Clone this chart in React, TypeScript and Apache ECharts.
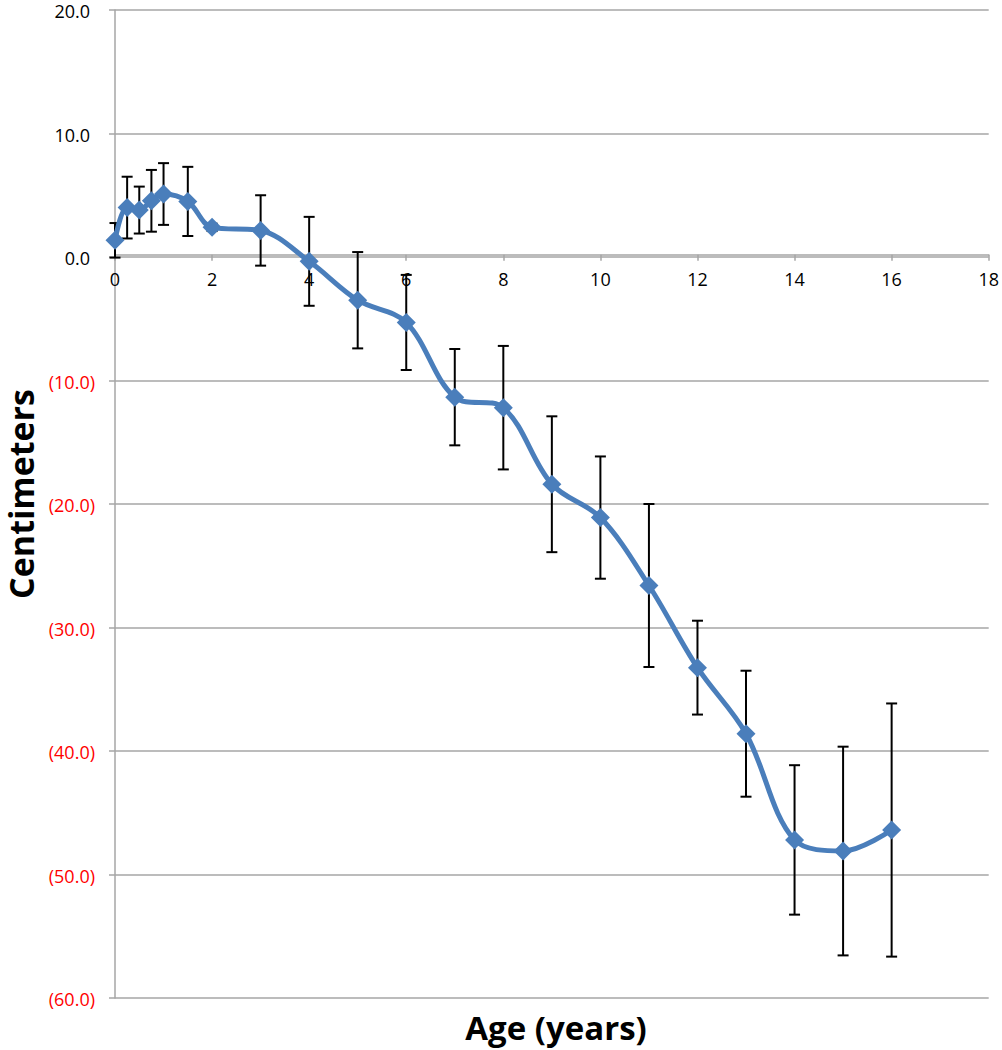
import React, { useEffect, useRef } from "react";
import * as echarts from "echarts";

const ages = [0, 0.25, 0.5, 0.75, 1, 1.5, 2, 3, 4, 5, 6, 7, 8, 9, 10, 11, 12, 13, 14, 15, 16];
const means = [1.35, 4.0, 3.8, 4.55, 5.1, 4.5, 2.4, 2.15, -0.35, -3.5, -5.3, -11.35, -12.2, -18.4, -21.1, -26.6, -33.25, -38.6, -47.2, -48.1, -46.4];
const errors = [1.4, 2.5, 1.9, 2.5, 2.5, 2.8, 0.3, 2.85, 3.6, 3.9, 3.85, 3.9, 5.0, 5.5, 4.95, 6.6, 3.8, 5.1, 6.05, 8.45, 10.25];

const xTitle = "Age (years)";
const yTitle = "Centimeters";
const Y_MIN = -60;
const Y_MAX = 20;
const FONT = "'Open Sans', sans-serif";

export default function App() {
  const ref = useRef<HTMLDivElement>(null);
  useEffect(() => {
    if (!ref.current) return;
    const chart = echarts.init(ref.current, undefined, { renderer: "svg" });
    const lineData = ages.map((a, i) => [a, means[i]]);
    const errData = ages.map((a, i) => [a, means[i] - errors[i], means[i] + errors[i]]);
    const gridTop = 7;
    const gridBottom = 52;
    const plotH = 1050 - gridTop - gridBottom;
    const zeroOffset = -(plotH * (0 - Y_MIN)) / (Y_MAX - Y_MIN);
    chart.setOption({
      animation: false,
      backgroundColor: "#ffffff",
      grid: { left: 115, right: 10, top: gridTop, bottom: gridBottom, containLabel: false },
      xAxis: {
        type: "value",
        min: 0,
        max: 18,
        interval: 2,
        position: "bottom",
        offset: zeroOffset,
        axisLine: { onZero: false, lineStyle: { color: "#A6A6A6", width: 1.5 } },
        axisTick: { show: true, inside: false, length: 6, lineStyle: { color: "#A6A6A6", width: 1.5 } },
        axisLabel: { fontFamily: FONT, fontSize: 18, color: "#000", margin: 15, showMaxLabel: true, showMinLabel: true },
        splitLine: { show: false },
      },
      yAxis: {
        type: "value",
        min: Y_MIN,
        max: Y_MAX,
        interval: 10,
        axisLine: { show: true, onZero: false, lineStyle: { color: "#A6A6A6", width: 1.5 } },
        axisTick: { show: true, length: 6, lineStyle: { color: "#A6A6A6", width: 1.5 } },
        axisLabel: {
          margin: 20,
          formatter: (v: number) => (v < 0 ? `{neg|(${(-v).toFixed(1)})}` : `{pos|${v.toFixed(1)}}`),
          rich: {
            pos: { fontFamily: FONT, fontSize: 18, lineHeight: 16, color: "#000000", padding: [2, 5, 0, 0] },
            neg: { fontFamily: FONT, fontSize: 18, lineHeight: 16, color: "#FF0000", padding: [2, 0, 0, 0] },
          },
        },
        splitLine: { show: true, lineStyle: { color: "#A6A6A6", width: 1.5 } },
      },
      graphic: [
        {
          type: "text",
          x: 556,
          y: 1027,
          style: {
            text: xTitle,
            font: `bold 33px ${FONT}`,
            fill: "#000",
            align: "center",
            verticalAlign: "middle",
          },
        },
        {
          type: "text",
          x: 21,
          y: 494,
          rotation: Math.PI / 2,
          style: {
            text: yTitle,
            font: `bold 34px ${FONT}`,
            lineHeight: 32,
            fill: "#000",
            align: "center",
            verticalAlign: "middle",
          },
        },
      ],
      series: [
        {
          type: "custom",
          z: 1,
          data: errData,
          renderItem: (params: any, api: any) => {
            const x = api.value(0);
            const lo = api.coord([x, api.value(1)]);
            const hi = api.coord([x, api.value(2)]);
            const w = 5.5;
            const style = { stroke: "#000", lineWidth: 2 };
            return {
              type: "group",
              children: [
                { type: "line", shape: { x1: lo[0], y1: lo[1], x2: hi[0], y2: hi[1] }, style },
                { type: "line", shape: { x1: lo[0] - w, y1: lo[1], x2: lo[0] + w, y2: lo[1] }, style },
                { type: "line", shape: { x1: hi[0] - w, y1: hi[1], x2: hi[0] + w, y2: hi[1] }, style },
              ],
            };
          },
        },
        {
          type: "line",
          z: 3,
          data: lineData,
          smooth: 0.35,
          symbol: "diamond",
          symbolSize: 19,
          showAllSymbol: true,
          lineStyle: { color: "#4A7EBB", width: 5 },
          itemStyle: { color: "#4A7EBB" },
        },
      ],
    });
    return () => chart.dispose();
  }, []);
  return (
    <div
      ref={ref}
      style={{ position: "absolute", left: 0, top: 0, width: 1002, height: 1050, overflow: "hidden" }}
    />
  );
}
